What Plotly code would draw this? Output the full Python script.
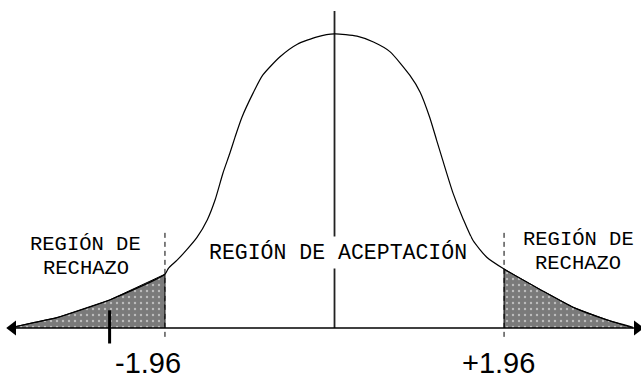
import plotly.graph_objects as go

# normal curve (z value, density)
curve_x = [-3.72, -3.49, -3.21, -2.60, -1.96, -1.92, -1.82, -1.71, -1.59, -1.47,
           -1.38, -1.29, -1.21, -1.15, -1.07, -0.94, -0.83, -0.63, -0.43, -0.20,
           0.0, 0.26, 0.45, 0.64, 0.87, 0.99, 1.10, 1.18, 1.25, 1.37,
           1.49, 1.60, 1.76, 1.96, 2.38, 2.76, 3.15, 3.45]
curve_y = [0.001, 0.007, 0.014, 0.038, 0.073, 0.081, 0.092, 0.106, 0.123, 0.147,
           0.174, 0.210, 0.237, 0.259, 0.286, 0.319, 0.343, 0.368, 0.385, 0.395,
           0.399, 0.396, 0.388, 0.375, 0.343, 0.320, 0.286, 0.255, 0.228, 0.183,
           0.147, 0.119, 0.096, 0.080, 0.052, 0.028, 0.011, 0.001]

crit = 1.96
crit_labels = ["-1.96", "+1.96"]
region_accept = "REGIÓN DE ACEPTACIÓN"
region_reject = ["REGIÓN DE", "RECHAZO"]

axis_left, axis_right = -3.72, 3.50
mark_x = -2.6

left_x = [x for x in curve_x if x <= -crit]
left_y = [y for x, y in zip(curve_x, curve_y) if x <= -crit]
right_x = [x for x in curve_x if x >= crit]
right_y = [y for x, y in zip(curve_x, curve_y) if x >= crit]

pattern = dict(shape=".", fgcolor="white", bgcolor="#7a7a7a", size=6, solidity=0.12)

fig = go.Figure()

# shaded rejection tails
for tx, ty in [(left_x, left_y), (right_x, right_y)]:
    fig.add_trace(go.Scatter(
        x=[tx[0]] + tx + [tx[-1]],
        y=[0] + ty + [0],
        mode="lines",
        fill="toself",
        fillcolor="#7a7a7a",
        fillpattern=pattern,
        line=dict(color="black", width=1),
        hoverinfo="skip",
        showlegend=False
    ))

# the bell curve
fig.add_trace(go.Scatter(
    x=curve_x,
    y=curve_y,
    mode="lines",
    line=dict(color="black", width=1.2, shape="spline", smoothing=0.6),
    hoverinfo="skip",
    showlegend=False
))

# horizontal axis with arrow heads
fig.add_trace(go.Scatter(
    x=[axis_left, axis_right],
    y=[0, 0],
    mode="lines+markers",
    line=dict(color="black", width=1.5),
    marker=dict(symbol=["triangle-left", "triangle-right"], size=13, color="black"),
    hoverinfo="skip",
    showlegend=False
))

# centre line
fig.add_shape(type="line", x0=0, x1=0, y0=0, y1=0.430,
              line=dict(color="#222", width=1.8), layer="below")

# critical value dashed lines
for c in (-crit, crit):
    fig.add_shape(type="line", x0=c, x1=c, y0=-0.012, y1=0.132,
                  line=dict(color="black", width=1, dash="5px,4px"))

# small mark under left tail
fig.add_shape(type="line", x0=mark_x, x1=mark_x, y0=-0.021, y1=0.024,
              line=dict(color="black", width=3))

# labels
fig.add_annotation(x=-2.155, y=-0.0475, text=crit_labels[0], showarrow=False,
                   font=dict(family="Liberation Sans", size=29, color="black"))
fig.add_annotation(x=1.90, y=-0.0475, text=crit_labels[1], showarrow=False,
                   font=dict(family="Liberation Sans", size=29, color="black"))

mono = dict(family="Liberation Mono", size=21.5, color="black")
fig.add_annotation(x=0.04, y=0.103, text=region_accept, showarrow=False,
                   font=mono, bgcolor="white", borderpad=3)

small = dict(family="Liberation Mono", size=20.5, color="black")
fig.add_annotation(x=-2.873, y=0.1135, text=region_reject[0], showarrow=False, font=small)
fig.add_annotation(x=-2.873, y=0.0805, text=region_reject[1], showarrow=False, font=small)
fig.add_annotation(x=2.815, y=0.1200, text=region_reject[0], showarrow=False, font=small)
fig.add_annotation(x=2.815, y=0.0875, text=region_reject[1], showarrow=False, font=small)

fig.update_xaxes(range=[-3.867, 3.543], visible=False)
fig.update_yaxes(range=[-0.0719, 0.445], visible=False)

fig.update_layout(
    width=641,
    height=381,
    margin=dict(l=0, r=0, t=0, b=0),
    plot_bgcolor="white",
    paper_bgcolor="white"
)

fig.write_html(
    "out.html",
    config={"displayModeBar": False},
    post_script="document.body.style.margin='0';"
)
